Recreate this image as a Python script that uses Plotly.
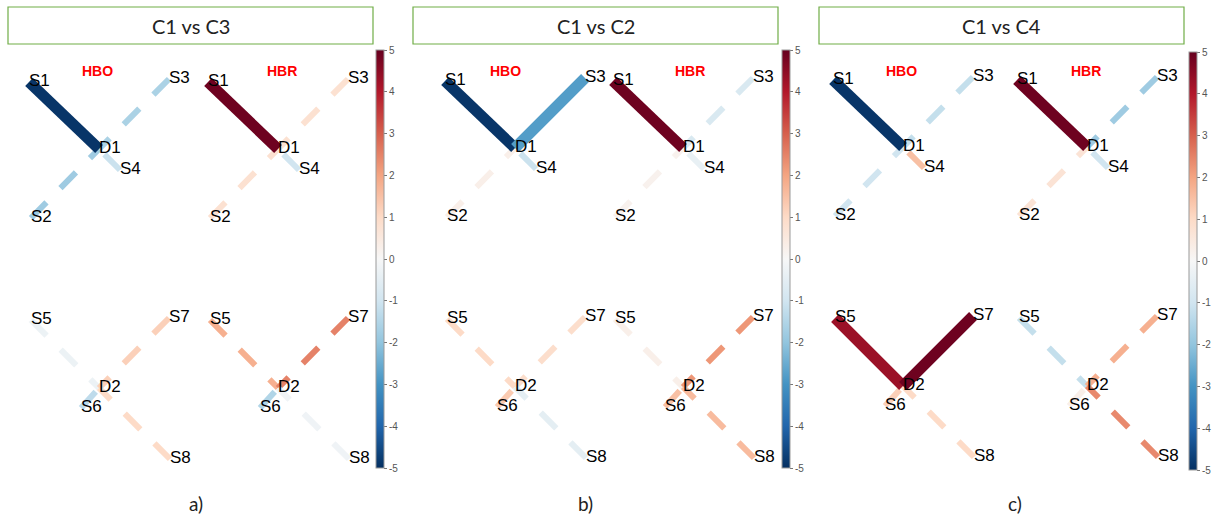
import plotly.graph_objects as go
import plotly.colors as pc

# ---------------- data ----------------
comparisons = ["C1 vs C3", "C1 vs C2", "C1 vs C4"]
panel_tags = ["a)", "b)", "c)"]
signals = ["HBO", "HBR"]
sources = ["S1", "S2", "S3", "S4", "S5", "S6", "S7", "S8"]
detectors = ["D1", "D1", "D1", "D1", "D2", "D2", "D2", "D2"]

# t-values per channel (S1-D1 ... S8-D2)
t_c1c3_hbo = [-4.9, -1.8, -1.6, -1.1, -0.3, -1.3, 1.2, 1.0]
t_c1c3_hbr = [4.9, 0.8, 0.8, -1.0, 1.8, -1.5, 2.5, -0.2]
t_c1c2_hbo = [-4.9, 0.3, -2.8, -1.1, 1.0, 1.3, 0.9, -0.5]
t_c1c2_hbr = [4.9, 0.2, -0.8, -0.4, 0.3, 1.5, 2.2, 1.6]
t_c1c4_hbo = [-4.9, -1.0, -1.2, 1.5, 4.3, 1.2, 4.9, 1.0]
t_c1c4_hbr = [4.9, 0.7, -1.8, -1.0, -1.2, 0.3, 1.8, 2.4]

# significance (drawn solid and thick)
sig_c1c3_hbo = [1, 0, 0, 0, 0, 0, 0, 0]
sig_c1c3_hbr = [1, 0, 0, 0, 0, 0, 0, 0]
sig_c1c2_hbo = [1, 0, 1, 0, 0, 0, 0, 0]
sig_c1c2_hbr = [1, 0, 0, 0, 0, 0, 0, 0]
sig_c1c4_hbo = [1, 0, 0, 0, 1, 0, 1, 0]
sig_c1c4_hbr = [1, 0, 0, 0, 0, 0, 0, 0]

# probe montage (optode positions, montage units)
optode_names = ["S1", "S2", "S3", "S4", "D1", "S5", "S6", "S7", "S8", "D2"]
optode_x = [-70, -68, 70, 21, 0, -68, -18, 70, 71, 0]
optode_y = [67, -69, 70, -21, 0, -171, -259, -169, -310, -239]

t_values = [[t_c1c3_hbo, t_c1c3_hbr], [t_c1c2_hbo, t_c1c2_hbr], [t_c1c4_hbo, t_c1c4_hbr]]
sig_values = [[sig_c1c3_hbo, sig_c1c3_hbr], [sig_c1c2_hbo, sig_c1c2_hbr], [sig_c1c4_hbo, sig_c1c4_hbr]]
cb_ticks = [-5, -4, -3, -2, -1, 0, 1, 2, 3, 4, 5]
cb_ticktext = ["-5", "-4", "-3", "-2", "-1", "0", "1", "2", "3", "4", "5"]

# ---------------- layout geometry (pixels) ----------------
W, H = 1213, 517
origins = [[(99, 149), (278, 149)], [(515, 148), (683, 148)], [(903, 147), (1087, 147)]]
hb_label_x = [(97, 282), (505, 690), (901, 1086)]
hb_label_y = 71
title_box_x = [(8, 373), (413, 778), (819, 1184)]
title_box_y = (7, 44)
colorbar_x = [376, 782, 1189]
colorbar_y = [(50, 468), (50, 468), (52, 470)]
tag_pos = [(196, 503), (585, 503), (1015, 503)]

def fx(px):
    return px / W

def fy(py):
    return 1 - py / H

blues_reds = pc.diverging.RdBu[::-1]
cscale = [[i / (len(blues_reds) - 1), c] for i, c in enumerate(blues_reds)]

def tcolor(t):
    v = (max(-5, min(5, t)) + 5) / 10
    return pc.sample_colorscale(cscale, [v])[0]

pos = {n: (x, y) for n, x, y in zip(optode_names, optode_x, optode_y)}

fig = go.Figure()
layout_axes = {}
annotations = []
shapes = []
k = 0
label_font = dict(family="Liberation Sans, Arial, sans-serif", size=17, color="black")

for p in range(3):
    for s in range(2):
        k += 1
        ox, oy = origins[p][s]
        xa = "x" if k == 1 else f"x{k}"
        ya = "y" if k == 1 else f"y{k}"
        xkey = "xaxis" if k == 1 else f"xaxis{k}"
        ykey = "yaxis" if k == 1 else f"yaxis{k}"
        layout_axes[xkey] = dict(domain=[fx(ox - 85), fx(ox + 85)], range=[-85, 85],
                                 visible=False, fixedrange=True, anchor=ya)
        layout_axes[ykey] = dict(domain=[fy(485), fy(55)], range=[oy - 485, oy - 55],
                                 visible=False, fixedrange=True, anchor=xa)
        tv = t_values[p][s]
        sg = sig_values[p][s]
        # non-significant first, significant on top
        order = [i for i in range(8) if not sg[i]] + [i for i in range(8) if sg[i]]
        for i in order:
            sx, sy = pos[sources[i]]
            dx, dy = pos[detectors[i]]
            if sg[i]:
                line = dict(color=tcolor(tv[i]), width=11)
            else:
                line = dict(color=tcolor(tv[i]), width=6, dash="22px,20px")
            fig.add_trace(go.Scatter(x=[sx, dx], y=[sy, dy], mode="lines", line=line,
                                     xaxis=xa, yaxis=ya, hoverinfo="skip",
                                     showlegend=False, cliponaxis=False))
        fig.add_trace(go.Scatter(x=optode_x, y=optode_y, mode="text", text=optode_names,
                                 textposition="middle right", textfont=label_font,
                                 xaxis=xa, yaxis=ya, hoverinfo="skip",
                                 showlegend=False, cliponaxis=False))
        annotations.append(dict(x=fx(hb_label_x[p][s]), y=fy(hb_label_y), xref="paper", yref="paper",
                                text=f"<b>{signals[s]}</b>", showarrow=False,
                                font=dict(family="Liberation Sans, Arial, sans-serif", size=14,
                                          color="#ff0000"),
                                xanchor="center", yanchor="middle"))
    # colorbar via dummy trace on this panel's HBO axes
    ca = "coloraxis" if p == 0 else f"coloraxis{p + 1}"
    xa = "x" if p == 0 else f"x{2 * p + 1}"
    ya = "y" if p == 0 else f"y{2 * p + 1}"
    fig.add_trace(go.Scatter(x=[0, 0], y=[0, 0], mode="markers",
                             marker=dict(color=[-5, 5], coloraxis=ca, size=1, opacity=0),
                             xaxis=xa, yaxis=ya, hoverinfo="skip", showlegend=False))
    cy0, cy1 = colorbar_y[p]
    layout_axes[ca] = dict(
        colorscale=cscale, cmin=-5, cmax=5,
        colorbar=dict(x=fx(colorbar_x[p]), xanchor="left", xpad=0, ypad=0,
                      y=fy(cy0), yanchor="top", len=(cy1 - cy0) / H, lenmode="fraction",
                      thickness=8, outlinecolor="#9a9a9a", outlinewidth=1,
                      tickvals=cb_ticks, ticktext=cb_ticktext, ticks="outside", ticklen=3,
                      tickcolor="#777",
                      tickfont=dict(family="Liberation Sans, Arial, sans-serif", size=10,
                                    color="#555")))
    # title box
    bx0, bx1 = title_box_x[p]
    shapes.append(dict(type="rect", xref="paper", yref="paper",
                       x0=fx(bx0), x1=fx(bx1), y0=fy(title_box_y[1]), y1=fy(title_box_y[0]),
                       line=dict(color="#70ad47", width=1.2), fillcolor="rgba(0,0,0,0)"))
    annotations.append(dict(x=fx((bx0 + bx1) / 2), y=fy(sum(title_box_y) / 2),
                            xref="paper", yref="paper", text=comparisons[p], showarrow=False,
                            font=dict(family="Lato, Open Sans, sans-serif", size=20, color="#222"),
                            xanchor="center", yanchor="middle"))
    annotations.append(dict(x=fx(tag_pos[p][0]), y=fy(tag_pos[p][1]), xref="paper", yref="paper",
                            text=panel_tags[p], showarrow=False,
                            font=dict(family="Lato, Open Sans, sans-serif", size=19, color="#222"),
                            xanchor="center", yanchor="middle"))

fig.update_layout(width=W, height=H, margin=dict(l=0, r=0, t=0, b=0),
                  paper_bgcolor="white", plot_bgcolor="rgba(0,0,0,0)",
                  showlegend=False, annotations=annotations, shapes=shapes, **layout_axes)

fig.write_html("out.html", config={"displayModeBar": False},
               post_script="document.body.style.margin='0';document.body.style.overflow='hidden';")
